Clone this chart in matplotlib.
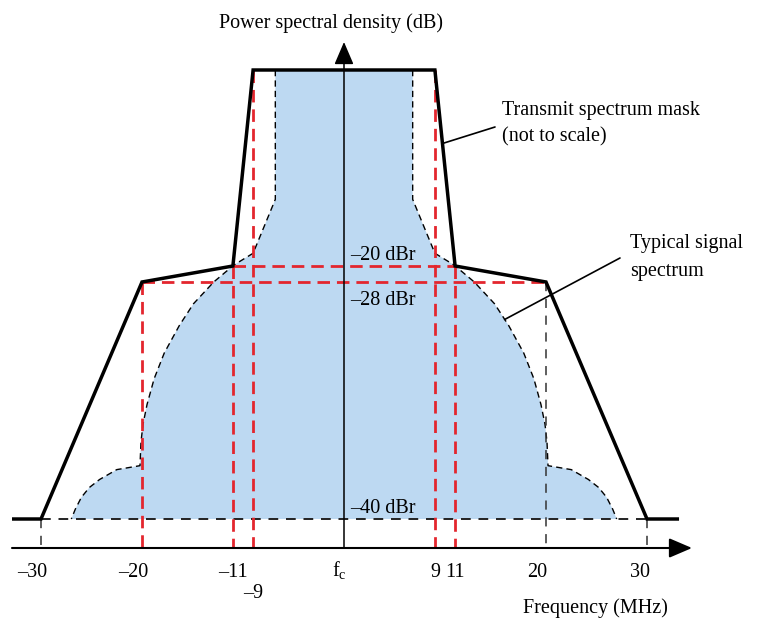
import numpy as np
import matplotlib
matplotlib.use('Agg')
import matplotlib.pyplot as plt

plt.rcParams['font.family'] = ['Liberation Serif', 'DejaVu Serif']
plt.rcParams['mathtext.fontset'] = 'custom'
plt.rcParams['mathtext.rm'] = 'Liberation Serif'

# transmit spectrum mask (MHz, dBr)
mask_f = [-33, -30, -20, -11, -9, 9, 11, 20, 30, 33]
mask_db = [-40, -40, -28, -20, 0, 0, -20, -28, -40, -40]

# typical signal spectrum, right half (symmetric about fc)
sig_f = np.array([0, 6.8, 6.8, 9.0, 10.9, 12.9, 14.9, 16.3, 17.8, 18.8, 19.5,
                  19.9, 20.1, 20.2, 22.5, 24.2, 25.2, 26.0, 26.6, 27.0])
sig_db = np.array([0, 0, -13.2, -18.7, -19.9, -28.0, -29.1, -30.2, -31.6, -32.9,
                   -34.2, -35.2, -36.1, -37.3, -37.5, -38.0, -38.4, -38.9, -39.5, -40.0])

tick_vals = [-30, -20, -11, -9, 0, 9, 11, 20, 30]
tick_labels = ['\u201330', '\u201320', '\u201311', '\u20139', r'$\mathrm{f}_\mathrm{c}$',
               '9', '11', '20', '30']

dbr_levels = [-20, -28, -40]
dbr_labels = ['\u201320 dBr', '\u201328 dBr', '\u201340 dBr']

# red limit lines
red_v_f = [-20, -11, -9, 9, 11]
red_v_top = [-28, -20, 0, 0, -20]
red_h_db = [-20, -28]
red_h_half = [11, 20]
# grey guide lines
grey_v_f = [-30, 20, 30]
grey_v_top = [-40, -28, -40]

# "not to scale" vertical scale: piecewise linear
lev = np.array([-40., -28., -20., 0.])
pos = np.array([-449., -212., -196., 0.])

def _pw(v, a, b):
    v = np.asarray(v, float)
    out = np.interp(v, a, b)
    out = np.where(v < a[0], b[0] + (v - a[0]) * (b[1] - b[0]) / (a[1] - a[0]), out)
    out = np.where(v > a[-1], b[-1] + (v - a[-1]) * (b[-1] - b[-2]) / (a[-1] - a[-2]), out)
    return out

fwd = lambda v: _pw(v, lev, pos)
inv = lambda v: _pw(v, pos, lev)

fig = plt.figure(figsize=(7.57, 6.2), dpi=100)
ax = fig.add_axes([12 / 757, 72 / 620, 680 / 757, 506 / 620])
ax.set_yscale('function', functions=(fwd, inv))
ax.set_xlim(-332 / 10.1, 348 / 10.1)
ax.set_ylim(float(inv(-478)), float(inv(28)))
ax.axis('off')
ybot = ax.get_ylim()[0]

red = '#e3262e'
fs = 14.5

# signal spectrum
full_f = np.concatenate([-sig_f[::-1], sig_f[1:]])
full_db = np.concatenate([sig_db[::-1], sig_db[1:]])
ax.fill(full_f, full_db, color='#bdd9f2', lw=0, zorder=1)
for s in (1, -1):
    ax.plot(s * sig_f[1:], sig_db[1:], color='k', lw=1.0, dashes=(4.5, 3), zorder=2)

# guides
ax.plot([-30, 30], [-40, -40], color='#222222', lw=1.4, dashes=(5, 4), zorder=2)
for f, top in zip(grey_v_f, grey_v_top):
    ax.plot([f, f], [top, ybot], color='#333333', lw=1.1, dashes=(6, 5), zorder=2)

# red dashed
for f, top in zip(red_v_f, red_v_top):
    ax.plot([f, f], [top, ybot], color=red, lw=2.0, dashes=(4.5, 2.5), zorder=3)
for db, h in zip(red_h_db, red_h_half):
    ax.plot([-h, h], [db, db], color=red, lw=2.0, dashes=(4.5, 2.5), zorder=3)

# mask
ax.plot(mask_f, mask_db, color='k', lw=2.5, solid_joinstyle='miter', zorder=4)

# axes arrows
arrow = dict(arrowstyle='-|>,head_length=0.7,head_width=0.3', mutation_scale=20,
             color='k', lw=1.5, shrinkA=0, shrinkB=0)
ax.annotate('', xy=(1, 0), xycoords='axes fraction', xytext=(0, 0),
            arrowprops=arrow, zorder=6)
yarrow = dict(arrow, lw=1.1)
ax.annotate('', xy=(0, 1), xycoords=('data', 'axes fraction'), xytext=(0, 0),
            textcoords=('data', 'axes fraction'), arrowprops=yarrow, zorder=6)

# tick labels
nudge = {-30: -6, -20: -6, 0: -3, 20: -6, 30: -5}
for v, lab in zip(tick_vals, tick_labels):
    dy = -36 if v == -9 else -21
    ax.annotate(lab, xy=(v, 0), xycoords=('data', 'axes fraction'),
                xytext=(nudge.get(v, 0), dy), textcoords='offset points',
                ha='center', va='baseline', fontsize=fs)

# dBr labels
for db, lab in zip(dbr_levels, dbr_labels):
    dy = -16.5 if db == -28 else 4.5
    ax.annotate(lab, xy=(0, db), xytext=(4.5, dy), textcoords='offset points',
                ha='left', va='baseline', fontsize=fs, zorder=7)

# callouts
ax.annotate('', xy=(9.75, -7.5), xytext=(495, 620 - 127), textcoords='figure pixels',
            arrowprops=dict(arrowstyle='-', lw=1.2, color='k', shrinkA=0, shrinkB=0))
ax.annotate('', xy=(15.9, -29.9), xytext=(620, 620 - 258), textcoords='figure pixels',
            arrowprops=dict(arrowstyle='-', lw=1.2, color='k', shrinkA=0, shrinkB=0))

def ftext(x, y, s, **kw):
    fig.text(x / 757, 1 - y / 620, s, fontsize=fs, va='baseline', **kw)

ftext(502, 115, 'Transmit spectrum mask')
ftext(502, 141, '(not to scale)')
ftext(630, 248, 'Typical signal')
ftext(630, 276, 'spectrum')
ftext(331, 28, 'Power spectral density (dB)', ha='center')
ftext(523, 613, 'Frequency (MHz)')

fig.savefig('out.png', dpi=100)
